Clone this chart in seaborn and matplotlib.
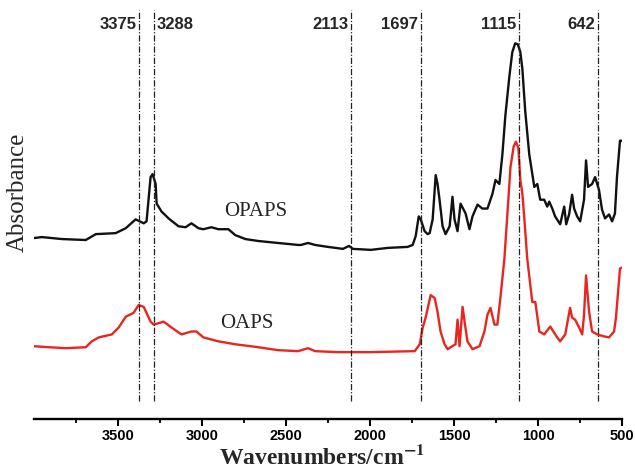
import matplotlib
matplotlib.use("Agg")
import matplotlib.pyplot as plt
import numpy as np
import pandas as pd
import seaborn as sns
from matplotlib.ticker import FixedLocator

# ---------------- data ----------------
opaps_wn = [4000, 3953, 3834, 3692, 3632, 3514, 3454, 3395, 3347, 3330, 3306, 3294,
            3276, 3270, 3241, 3199, 3140, 3098, 3063, 3021, 2992, 2944, 2903, 2843,
            2802, 2742, 2665, 2547, 2428, 2410, 2369, 2327, 2250, 2161, 2125, 2102,
            1995, 1894, 1776, 1746, 1728, 1710, 1698, 1675, 1657, 1645, 1627, 1609,
            1598, 1586, 1568, 1550, 1526, 1509, 1497, 1479, 1461, 1431, 1408, 1390,
            1360, 1331, 1301, 1271, 1253, 1230, 1212, 1194, 1170, 1153, 1136, 1120,
            1105, 1093, 1076, 1052, 1022, 1004, 987, 963, 945, 933, 915, 898, 868,
            844, 832, 815, 797, 785, 767, 749, 726, 714, 702, 678, 660, 637, 619,
            601, 577, 559, 542, 530, 512, 500]
opaps_abs = [1.81, 1.82, 1.80, 1.79, 1.85, 1.86, 1.91, 2.00, 1.96, 1.98, 2.43, 2.46,
             2.36, 2.16, 2.08, 2.01, 1.93, 1.92, 1.96, 1.91, 1.90, 1.92, 1.90, 1.90,
             1.84, 1.80, 1.78, 1.76, 1.74, 1.74, 1.76, 1.74, 1.72, 1.70, 1.73, 1.70,
             1.69, 1.71, 1.72, 1.74, 1.83, 2.03, 2.00, 1.88, 1.85, 1.86, 2.00, 2.45,
             2.36, 2.20, 1.93, 1.85, 1.93, 2.23, 2.00, 1.88, 2.16, 2.06, 1.90, 2.03,
             2.15, 2.11, 2.11, 2.26, 2.40, 2.36, 2.66, 3.06, 3.46, 3.70, 3.79, 3.78,
             3.70, 3.53, 3.10, 2.66, 2.33, 2.36, 2.20, 2.20, 2.13, 2.18, 2.11, 2.03,
             1.95, 2.13, 1.95, 2.05, 2.25, 2.11, 2.03, 1.98, 2.20, 2.60, 2.33, 2.36,
             2.43, 2.30, 2.10, 2.01, 2.05, 1.98, 2.06, 2.43, 2.80, 2.80]

oaps_wn = [4000, 3911, 3810, 3692, 3656, 3614, 3537, 3496, 3454, 3407, 3377, 3347,
           3306, 3288, 3247, 3229, 3181, 3122, 3063, 3033, 2992, 2903, 2802, 2665,
           2547, 2428, 2369, 2327, 2191, 1995, 1734, 1704, 1686, 1669, 1639, 1615,
           1598, 1580, 1556, 1538, 1520, 1491, 1479, 1467, 1449, 1437, 1420, 1390,
           1348, 1319, 1301, 1283, 1259, 1242, 1224, 1200, 1182, 1164, 1145, 1132,
           1117, 1105, 1093, 1081, 1064, 1034, 1016, 992, 963, 927, 886, 868, 838,
           809, 797, 779, 755, 737, 726, 714, 696, 678, 648, 607, 577, 547, 536,
           512, 500]
oaps_abs = [0.71, 0.70, 0.69, 0.70, 0.76, 0.80, 0.83, 0.90, 1.01, 1.05, 1.13, 1.11,
            0.96, 0.93, 0.95, 0.96, 0.90, 0.83, 0.86, 0.86, 0.80, 0.76, 0.73, 0.70,
            0.67, 0.66, 0.69, 0.66, 0.65, 0.65, 0.66, 0.73, 0.90, 1.00, 1.23, 1.20,
            1.06, 0.86, 0.73, 0.68, 0.70, 0.73, 0.98, 0.71, 1.11, 0.96, 0.76, 0.68,
            0.71, 0.86, 1.03, 1.10, 0.93, 0.93, 1.20, 1.60, 2.06, 2.53, 2.74, 2.79,
            2.73, 2.40, 2.26, 2.00, 1.60, 1.16, 1.16, 0.86, 0.83, 0.91, 0.80, 0.76,
            0.83, 1.10, 1.00, 0.98, 0.90, 0.83, 1.03, 1.43, 1.06, 0.86, 0.83, 0.81,
            0.80, 0.86, 1.00, 1.50, 1.51]

peak_wn = [3375, 3288, 2113, 1697, 1115, 642]
peak_labels = ["3375", "3288", "2113", "1697", "1115", "642"]
x_ticks = [3500, 3000, 2500, 2000, 1500, 1000, 500]
x_minor = [3750, 3250, 2750, 2250, 1750, 1250, 750]
series_names = ["OPAPS", "OAPS"]

# ---------------- figure ----------------
sns.set_theme(style="white")
plt.rcParams['font.family'] = ['Liberation Sans', 'DejaVu Sans']
plt.rcParams['mathtext.fontset'] = 'stix'

df = pd.concat([
    pd.DataFrame({"wn": opaps_wn, "absorb": opaps_abs, "sample": series_names[0]}),
    pd.DataFrame({"wn": oaps_wn, "absorb": oaps_abs, "sample": series_names[1]}),
], ignore_index=True)

fig = plt.figure(figsize=(6.35, 4.7), dpi=100)
ax = fig.add_axes([34 / 635, 1 - 419 / 470, 588 / 635, 414 / 470])

sns.lineplot(data=df, x="wn", y="absorb", hue="sample",
             palette={"OPAPS": "#111111", "OAPS": "#e8261f"},
             estimator=None, sort=True, lw=1.7, legend=False, ax=ax)

ax.vlines(peak_wn, 0.15, 4.13, colors="#222222",
          linestyles=[(0, (5, 1.5, 1, 1.5))], lw=0.9)

for w, lab in zip(peak_wn, peak_labels):
    if lab == "3288":
        ax.annotate(lab, xy=(w, 3.98), xytext=(2, 0), textcoords="offset points",
                    ha="left", va="center", fontsize=12, fontweight="bold")
    else:
        ax.annotate(lab, xy=(w, 3.98), xytext=(-2, 0), textcoords="offset points",
                    ha="right", va="center", fontsize=12, fontweight="bold")

ax.text(2683, 2.08, series_names[0], family="Liberation Serif", fontsize=15,
        ha="center", va="center")
ax.text(2731, 0.94, series_names[1], family="Liberation Serif", fontsize=15,
        ha="center", va="center")

ax.set_xlim(4000, 500)
ax.set_ylim(-0.03, 4.18)
ax.set_yticks([])
ax.set_xlabel("")
ax.set_ylabel("")
for s in ["left", "top", "right"]:
    ax.spines[s].set_visible(False)
ax.spines["bottom"].set_color("black")
ax.spines["bottom"].set_linewidth(1.7)

ax.xaxis.set_major_locator(FixedLocator(x_ticks))
ax.xaxis.set_minor_locator(FixedLocator(x_minor))
ax.tick_params(axis="x", which="major", bottom=True, direction="out", length=5,
               width=1.5, color="black", labelsize=10.5, pad=2.5, labelcolor="black")
ax.tick_params(axis="x", which="minor", bottom=True, direction="out", length=2.8,
               width=1.3, color="black")
for t in ax.get_xticklabels():
    t.set_fontweight("bold")

fig.text(322 / 635, 1 - 457 / 470, r"Wavenumbers/cm$^{\mathbf{-1}}$",
         family="Liberation Serif", fontweight="bold", fontsize=17,
         ha="center", va="center")
fig.text(18 / 635, 1 - 192 / 470, "Absorbance", rotation=90,
         family="Liberation Serif", fontsize=18, ha="center", va="center")

fig.savefig("out.png", dpi=100, facecolor="white")
